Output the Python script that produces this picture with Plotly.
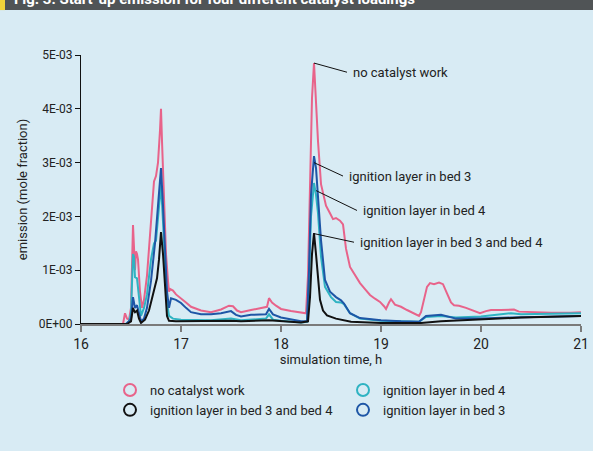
import plotly.graph_objects as go

# ---------------- data (emission in mole fraction; x in hours) -------------
pink_x = [16.0, 16.42, 16.44, 16.46, 16.48, 16.50, 16.52, 16.53, 16.54, 16.55,
          16.56, 16.57, 16.59, 16.61, 16.63, 16.66, 16.69, 16.72, 16.73, 16.75,
          16.77, 16.79, 16.80, 16.81, 16.83, 16.85, 16.87, 16.88, 16.89, 16.92,
          16.95, 17.0, 17.05, 17.1, 17.15, 17.2, 17.3, 17.4, 17.48, 17.52,
          17.56, 17.6, 17.7, 17.8, 17.86, 17.88, 17.91, 17.95, 18.0, 18.1,
          18.2, 18.25, 18.27, 18.29, 18.31, 18.33, 18.35, 18.37, 18.40, 18.42,
          18.45, 18.49, 18.52, 18.55, 18.59, 18.62, 18.65, 18.69, 18.74, 18.79,
          18.84, 18.89, 18.94, 18.99, 19.03, 19.05, 19.08, 19.10, 19.14, 19.2,
          19.26, 19.32, 19.38, 19.40, 19.43, 19.46, 19.49, 19.53, 19.58, 19.62,
          19.66, 19.70, 19.73, 19.78, 19.85, 19.92, 19.99, 20.05, 20.1, 20.2,
          20.33, 20.38, 20.5, 20.7, 20.9, 21.0]
pink_y = [0, 0, 0.2, 0.1, 0.08, 0.3, 1.84, 1.2, 1.0, 1.35,
          1.3, 1.2, 0.6, 0.3, 0.45, 0.9, 1.6, 2.3, 2.65, 2.75,
          3.0, 3.6, 4.0, 3.4, 2.3, 1.3, 0.8, 0.6, 0.65, 0.62,
          0.55, 0.48, 0.4, 0.32, 0.28, 0.25, 0.22, 0.27, 0.34, 0.33,
          0.25, 0.22, 0.26, 0.29, 0.32, 0.48, 0.4, 0.34, 0.28, 0.24,
          0.21, 0.2, 0.9, 2.8, 4.2, 4.85, 4.1, 3.4, 2.6, 2.43,
          2.2, 2.06, 1.95, 1.97, 1.92, 1.85, 1.4, 1.06, 0.9, 0.76,
          0.65, 0.54, 0.47, 0.41, 0.33, 0.28, 0.4, 0.46, 0.36, 0.32,
          0.26, 0.2, 0.15, 0.22, 0.45, 0.69, 0.76, 0.74, 0.77, 0.74,
          0.57, 0.4, 0.35, 0.34, 0.3, 0.25, 0.2, 0.24, 0.26, 0.26,
          0.27, 0.23, 0.22, 0.21, 0.21, 0.22]

blue_x = [16.0, 16.45, 16.48, 16.50, 16.52, 16.53, 16.54, 16.56, 16.58, 16.60,
          16.63, 16.66, 16.70, 16.74, 16.77, 16.80, 16.82, 16.84, 16.86, 16.88,
          16.90, 16.95, 17.0, 17.05, 17.1, 17.2, 17.3, 17.4, 17.5, 17.55,
          17.6, 17.7, 17.85, 17.88, 17.92, 18.0, 18.1, 18.2, 18.26, 18.28,
          18.30, 18.33, 18.35, 18.37, 18.40, 18.44, 18.49, 18.55, 18.60, 18.63,
          18.69, 18.79, 19.0, 19.2, 19.38, 19.45, 19.6, 19.75, 20.0, 20.3,
          20.6, 21.0]
blue_y = [0, 0, 0.05, 0.1, 0.5, 0.4, 0.3, 0.35, 0.2, 0.05,
          0.1, 0.3, 0.8, 1.5, 2.2, 2.9, 2.2, 1.3, 0.6, 0.3,
          0.48, 0.45, 0.39, 0.3, 0.22, 0.18, 0.18, 0.2, 0.24, 0.17,
          0.14, 0.17, 0.18, 0.28, 0.18, 0.12, 0.08, 0.05, 0.05, 1.0,
          2.4, 3.12, 2.9, 2.43, 1.56, 0.82, 0.6, 0.5, 0.44, 0.38,
          0.2, 0.11, 0.07, 0.05, 0.04, 0.15, 0.17, 0.1, 0.1, 0.12,
          0.13, 0.15]

cyan_x = [16.0, 16.45, 16.48, 16.50, 16.52, 16.53, 16.54, 16.56, 16.58, 16.60,
          16.63, 16.66, 16.70, 16.73, 16.75, 16.77, 16.80, 16.82, 16.84, 16.86,
          16.88, 16.92, 17.0, 17.3, 17.5, 17.6, 17.85, 17.88, 17.92, 18.0,
          18.2, 18.26, 18.28, 18.30, 18.33, 18.35, 18.37, 18.40, 18.44, 18.50,
          18.55, 18.60, 18.63, 18.69, 18.79, 19.0, 19.38, 19.45, 19.6, 19.75,
          20.0, 20.3, 20.4, 20.7, 21.0]
cyan_y = [0, 0, 0.05, 0.2, 1.3, 1.25, 0.87, 0.85, 0.5, 0.15,
          0.3, 0.55, 1.2, 1.5, 1.55, 2.0, 2.6, 1.9, 1.0, 0.4,
          0.15, 0.1, 0.08, 0.07, 0.1, 0.07, 0.1, 0.18, 0.08, 0.06,
          0.03, 0.04, 0.8, 2.0, 2.62, 2.4, 2.06, 1.25, 0.69, 0.5,
          0.41, 0.4, 0.37, 0.2, 0.1, 0.06, 0.04, 0.13, 0.15, 0.12,
          0.14, 0.2, 0.18, 0.19, 0.2]

black_x = [16.0, 16.46, 16.50, 16.52, 16.53, 16.54, 16.56, 16.58, 16.60, 16.64,
           16.68, 16.72, 16.74, 16.76, 16.78, 16.80, 16.82, 16.84, 16.86, 16.88,
           16.95, 17.5, 17.6, 17.88, 18.0, 18.2, 18.27, 18.29, 18.31, 18.33,
           18.35, 18.37, 18.39, 18.42, 18.46, 18.55, 18.7, 19.0, 19.4, 19.6,
           20.0, 20.4, 21.0]
black_y = [0, 0, 0.05, 0.3, 0.25, 0.22, 0.25, 0.1, 0.02, 0.08,
           0.25, 0.55, 0.7, 0.85, 1.2, 1.71, 1.3, 0.6, 0.15, 0.06,
           0.05, 0.06, 0.05, 0.07, 0.05, 0.03, 0.05, 0.5, 1.3, 1.69,
           1.3, 0.8, 0.45, 0.25, 0.16, 0.1, 0.04, 0.02, 0.02, 0.05,
           0.08, 0.12, 0.15]

SCALE = 1e-3
series_names = ["no catalyst work", "ignition layer in bed 4",
                "ignition layer in bed 3 and bed 4", "ignition layer in bed 3"]
series_colors = ["#E8638A", "#2FB3C2", "#111111", "#1E56A6"]

y_tickvals = [0, 1e-3, 2e-3, 3e-3, 4e-3, 5e-3]
y_ticktext = ["0E+00", "1E-03", "2E-03", "3E-03", "4E-03", "5E-03"]
x_tickvals = [16, 17, 18, 19, 20, 21]

title_text = "Fig. 3: Start-up emission for four different catalyst loadings"

# callout labels: (text, anchor x, anchor y, label x, label y)
callouts = [
    ("no catalyst work", 18.33, 4.85, 18.70, 4.68),
    ("ignition layer in bed 3", 18.33, 3.0, 18.66, 2.75),
    ("ignition layer in bed 4", 18.35, 2.48, 18.80, 2.11),
    ("ignition layer in bed 3 and bed 4", 18.33, 1.68, 18.77, 1.52),
]

FONT = "Roboto, Arial, sans-serif"
BG = "#D8EBF4"

fig = go.Figure()

data = {
    "no catalyst work": (pink_x, pink_y),
    "ignition layer in bed 4": (cyan_x, cyan_y),
    "ignition layer in bed 3": (blue_x, blue_y),
    "ignition layer in bed 3 and bed 4": (black_x, black_y),
}
color_of = dict(zip(series_names, series_colors))
for name in ["no catalyst work", "ignition layer in bed 4",
             "ignition layer in bed 3", "ignition layer in bed 3 and bed 4"]:
    xs, ys = data[name]
    fig.add_trace(go.Scatter(x=xs, y=[v * SCALE for v in ys], mode="lines",
                             line=dict(color=color_of[name], width=2),
                             showlegend=False, hoverinfo="skip"))

# legend-only entries
for name, col in zip(series_names, series_colors):
    fig.add_trace(go.Scatter(x=[None], y=[None], mode="markers", name=name,
                             marker=dict(symbol="circle-open", size=12,
                                         color=col, line=dict(width=2, color=col))))

# callouts
for text, ax_, ay_, lx, ly in callouts:
    fig.add_shape(type="line", xref="x", yref="y", x0=ax_, y0=ay_ * SCALE,
                  x1=lx - 0.04, y1=ly * SCALE, line=dict(color="#111111", width=1))
    fig.add_annotation(x=lx, y=ly * SCALE, xref="x", yref="y", text=text,
                       showarrow=False, xanchor="left", yanchor="middle",
                       font=dict(family=FONT, size=13, color="#222222"))

# title bar (cut off at top of picture)
fig.add_shape(type="rect", xref="paper", yref="paper", x0=-0.2, x1=1.1,
              y0=1.167, y1=1.25, fillcolor="#505456", line=dict(width=0), layer="above")
fig.add_shape(type="rect", xref="paper", yref="paper", x0=-0.2, x1=-0.152,
              y0=1.167, y1=1.25, fillcolor="#F2D43A", line=dict(width=0), layer="above")
fig.add_annotation(x=-0.138, y=1.168, xref="paper", yref="paper", text="<b>" + title_text + "</b>",
                   showarrow=False, xanchor="left", yanchor="bottom",
                   font=dict(family=FONT, size=15, color="#FFFFFF"))

fig.update_layout(
    width=593, height=451,
    paper_bgcolor=BG, plot_bgcolor=BG,
    margin=dict(l=81, r=12, t=55, b=127, autoexpand=False),
    font=dict(family=FONT, size=13, color="#222222"),
    xaxis=dict(range=[16, 21], tickvals=x_tickvals, showgrid=False, zeroline=False,
               showline=True, linecolor="#7A7A7A", linewidth=2, ticks="outside",
               ticklen=6, tickcolor="#7A7A7A", tickwidth=2, automargin=False,
               tickfont=dict(family=FONT, size=14, color="#222222"),
               title=dict(text="simulation time, h", standoff=0,
                          font=dict(family=FONT, size=13, color="#222222"))),
    yaxis=dict(range=[0, 5e-3], tickvals=y_tickvals, ticktext=y_ticktext,
               showgrid=False, zeroline=False, showline=True, linecolor="#111111",
               linewidth=1, ticks="outside", ticklen=5, tickcolor="#111111",
               automargin=False,
               tickfont=dict(family=FONT, size=12, color="#222222"),
               title=dict(text="emission (mole fraction)", standoff=8,
                          font=dict(family=FONT, size=13, color="#222222"))),
    legend=dict(orientation="h", x=0.1855, xref="container", y=0.1685, yref="container",
                xanchor="left", yanchor="top", entrywidth=188, entrywidthmode="pixels",
                bgcolor="rgba(0,0,0,0)", font=dict(family=FONT, size=13, color="#222222"),
                itemwidth=30, tracegroupgap=0),
)

fig.write_html("out.html", config={"displayModeBar": False},
               post_script="document.body.style.margin='0';document.body.style.background='" + BG + "';")
